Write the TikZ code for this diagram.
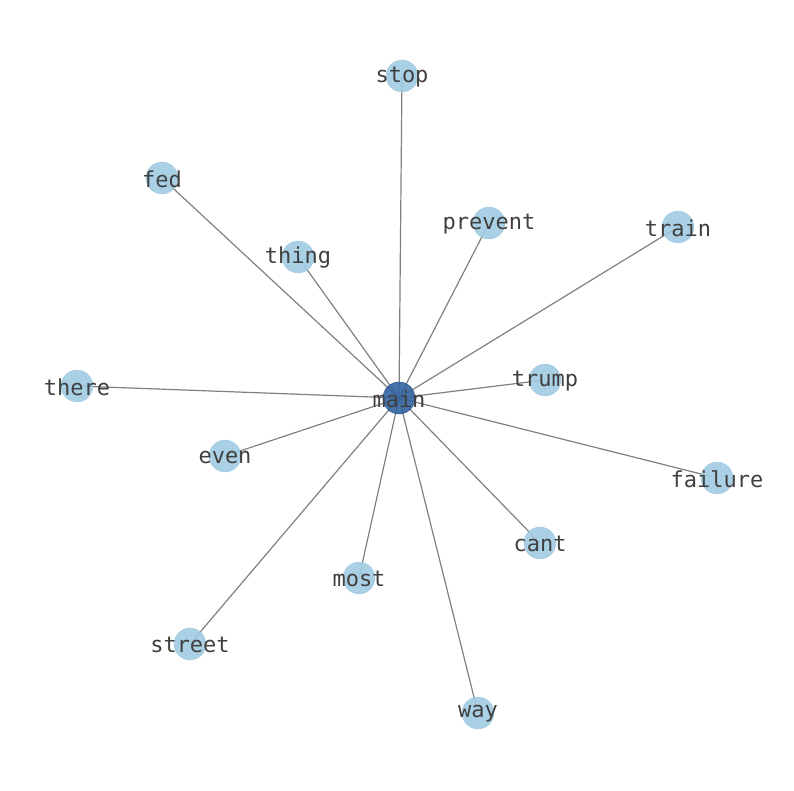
\documentclass[tikz,border=0pt]{standalone}
\usepackage{fontspec}
\setmonofont{DejaVu Sans Mono}
\begin{document}
\begin{tikzpicture}[x=1pt,y=-1pt,
  leaf/.style={circle,fill={rgb,255:red,160;green,203;blue,226},fill opacity=0.9,draw={rgb,255:red,150;green,195;blue,222},draw opacity=0.6,line width=0.5pt,minimum size=32pt,inner sep=0pt},
  hub/.style={circle,fill={rgb,255:red,50;green,100;blue,160},fill opacity=0.9,draw={rgb,255:red,40;green,85;blue,145},line width=0.5pt,minimum size=32pt,inner sep=0pt},
  edge/.style={draw={rgb,255:red,128;green,128;blue,128},line width=1.2pt},
  lbl/.style={font=\ttfamily\fontsize{22}{22}\selectfont,text={rgb,255:red,64;green,64;blue,64},inner sep=0pt,yshift=-1pt}]
\useasboundingbox (0,0) rectangle (794,790);
\coordinate (main) at (399,398);
\coordinate (stop) at (402,76);
\coordinate (fed) at (162,178);
\coordinate (prevent) at (489,223);
\coordinate (train) at (678,227);
\coordinate (thing) at (298,257);
\coordinate (there) at (77,386);
\coordinate (trump) at (545,380);
\coordinate (even) at (225,456);
\coordinate (failure) at (717,478);
\coordinate (cant) at (540,543);
\coordinate (most) at (359,578);
\coordinate (street) at (190,644);
\coordinate (way) at (478,713);
\foreach \n in {stop,fed,prevent,train,thing,there,trump,even,failure,cant,most,street,way}
  \draw[edge] (main) -- (\n);
\foreach \n in {stop,fed,prevent,train,thing,there,trump,even,failure,cant,most,street,way}
  \node[leaf] (c-\n) at (\n) {};
\node[hub] (c-main) at (main) {};
\foreach \n in {main,stop,fed,prevent,train,thing,there,trump,even,failure,cant,most,street,way}
  \node[lbl] (t-\n) at (\n) {\n};
\end{tikzpicture}
\end{document}
